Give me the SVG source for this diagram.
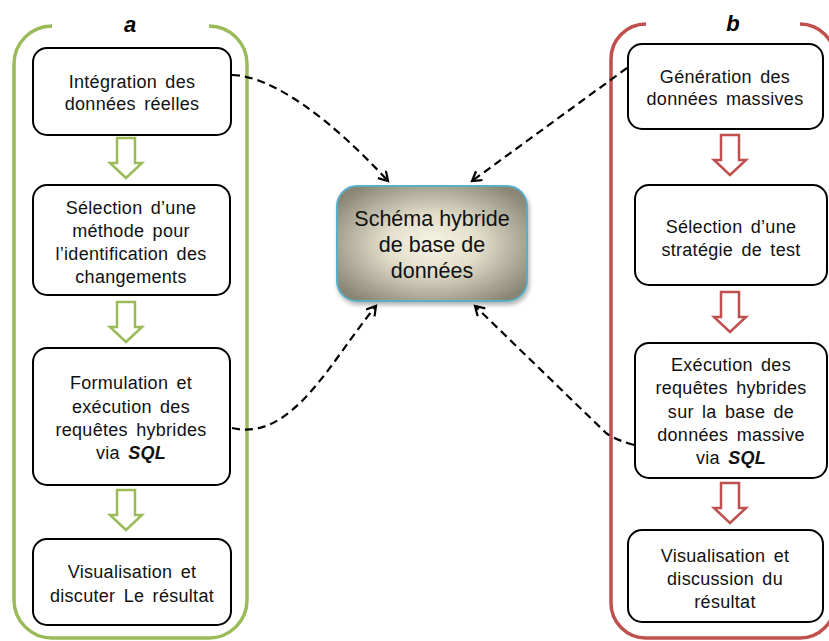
<svg xmlns="http://www.w3.org/2000/svg" width="829" height="641" viewBox="0 0 829 641">
<style>
.box{fill:#fff;stroke:#000;stroke-width:2}
.t{font-family:"Liberation Sans",Arial,sans-serif;font-size:18px;letter-spacing:0.3px;word-spacing:3px;fill:#111;text-anchor:middle}
.ct{font-family:"Liberation Sans",Arial,sans-serif;font-size:21.5px;fill:#111;text-anchor:middle}
.lbl{font-family:"Liberation Sans",Arial,sans-serif;font-size:22px;font-weight:bold;font-style:italic;fill:#000;text-anchor:middle}
.sql{font-weight:bold;font-style:italic}
.gb{fill:none;stroke:#9BBB59;stroke-width:3.5}
.rb{fill:none;stroke:#C0504D;stroke-width:3.5}
.ga{fill:#fff;stroke:#9BBB59;stroke-width:2.5}
.ra{fill:#fff;stroke:#C0504D;stroke-width:2.5}
.con{fill:none;stroke:#000;stroke-width:2.2;stroke-dasharray:8 5;marker-end:url(#arr)}
</style>
<defs>
<marker id="arr" markerUnits="userSpaceOnUse" markerWidth="14" markerHeight="14" refX="11" refY="6" orient="auto">
<path d="M2,0.5 L11,6 L2,11.5" fill="none" stroke="#000" stroke-width="2.2"/>
</marker>
<radialGradient id="cg" cx="50%" cy="50%" r="62%">
<stop offset="0" stop-color="#F7F5E6"/>
<stop offset="0.4" stop-color="#E2DECA"/>
<stop offset="1" stop-color="#898574"/>
</radialGradient>
<filter id="sh" x="-10%" y="-10%" width="125%" height="130%">
<feDropShadow dx="1.5" dy="3" stdDeviation="2" flood-color="#000" flood-opacity="0.3"/>
</filter>
<path id="harrow" d="M-9,0 L9,0 L9,25 L16,25 L0,40 L-16,25 L-9,25 Z"/>
</defs>

<g id="bracket-a">
<path class="gb" d="M52,26 A38,38 0 0 0 14,64 L14,600 A38,38 0 0 0 52,638 L209,638 A38,38 0 0 0 247,600 L247,64 A38,38 0 0 0 209,26"/>
<text class="lbl" x="130" y="32">a</text>
</g>
<g id="bracket-b">
<path class="rb" d="M646,24 A35,35 0 0 0 611,59 L611,603 A35,35 0 0 0 646,638 L800,638 A35,35 0 0 0 835,603 L835,59 A35,35 0 0 0 800,24"/>
<text class="lbl" x="733" y="31">b</text>
</g>

<g id="connectors">
<path class="con" d="M232,75 C272,76 330,118 388,181"/>
<path class="con" d="M232,428 C292,442 330,362 376,306"/>
<path class="con" d="M627,68 L472,181"/>
<path class="con" d="M634,445 Q616,440 606,433 L475,306"/>
</g>

<g id="center">
<rect x="337" y="186" width="190" height="115" rx="20" fill="url(#cg)" stroke="#5AAFC7" stroke-width="2" filter="url(#sh)"/>
<text class="ct" x="432" y="226">Schéma hybride</text>
<text class="ct" x="432" y="252">de base de</text>
<text class="ct" x="432" y="278">données</text>
</g>

<g id="a1">
<rect class="box" x="33" y="48" width="198" height="87" rx="14"/>
<text class="t" x="132" y="88">Intégration des</text>
<text class="t" x="132" y="110">données réelles</text>
</g>
<g id="a2">
<rect class="box" x="33" y="185" width="197" height="110" rx="14"/>
<text class="t" x="131" y="214">Sélection d’une</text>
<text class="t" x="131" y="237">méthode pour</text>
<text class="t" x="131" y="260">l’identification des</text>
<text class="t" x="131" y="283">changements</text>
</g>
<g id="a3">
<rect class="box" x="33" y="348" width="197" height="137" rx="14"/>
<text class="t" x="131" y="389">Formulation et</text>
<text class="t" x="131" y="413">exécution des</text>
<text class="t" x="131" y="436">requêtes hybrides</text>
<text class="t" x="131" y="459">via <tspan class="sql">SQL</tspan></text>
</g>
<g id="a4">
<rect class="box" x="33" y="539" width="198" height="86" rx="14"/>
<text class="t" x="132" y="578">Visualisation et</text>
<text class="t" x="132" y="602">discuter Le résultat</text>
</g>

<g id="arrows-a">
<use href="#harrow" class="ga" x="126" y="138"/>
<use href="#harrow" class="ga" x="126" y="302"/>
<use href="#harrow" class="ga" x="126" y="490"/>
</g>

<g id="b1">
<rect class="box" x="628" y="44" width="195" height="85" rx="14"/>
<text class="t" x="725" y="83">Génération des</text>
<text class="t" x="725" y="105">données massives</text>
</g>
<g id="b2">
<rect class="box" x="635" y="185" width="192" height="100" rx="14"/>
<text class="t" x="731" y="233">Sélection d’une</text>
<text class="t" x="731" y="256">stratégie de test</text>
</g>
<g id="b3">
<rect class="box" x="635" y="343" width="192" height="135" rx="14"/>
<text class="t" x="731" y="371">Exécution des</text>
<text class="t" x="731" y="394">requêtes hybrides</text>
<text class="t" x="731" y="418">sur la base de</text>
<text class="t" x="731" y="441">données massive</text>
<text class="t" x="731" y="464">via <tspan class="sql">SQL</tspan></text>
</g>
<g id="b4">
<rect class="box" x="628" y="530" width="195" height="92" rx="14"/>
<text class="t" x="725" y="562">Visualisation et</text>
<text class="t" x="725" y="585">discussion du</text>
<text class="t" x="725" y="608">résultat</text>
</g>

<g id="arrows-b">
<use href="#harrow" class="ra" x="730" y="135"/>
<use href="#harrow" class="ra" x="730" y="292"/>
<use href="#harrow" class="ra" x="730" y="483"/>
</g>
</svg>
